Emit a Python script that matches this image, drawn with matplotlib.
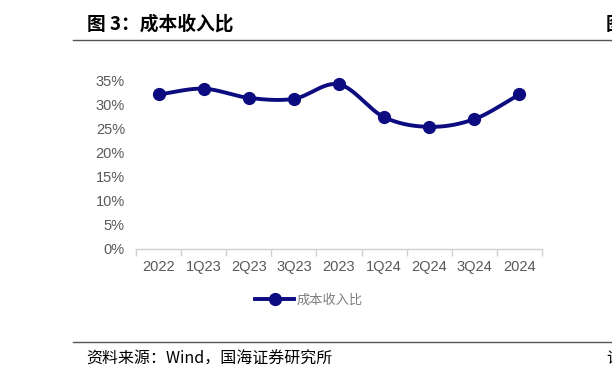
import numpy as np
import matplotlib
matplotlib.use('Agg')
import matplotlib.pyplot as plt
from matplotlib.lines import Line2D

plt.rcParams['font.family'] = ['Noto Sans CJK SC', 'DejaVu Sans']

# 数据
categories = ['2022', '1Q23', '2Q23', '3Q23', '2023', '1Q24', '2Q24', '3Q24', '2024']
cost_income = [32.0, 33.2, 31.3, 31.1, 34.1, 27.3, 25.3, 26.9, 32.0]
y_ticks = [0, 5, 10, 15, 20, 25, 30, 35]
series_name = '成本收入比'
title = '图 3：成本收入比'
source = '资料来源：Wind，国海证券研究所'

navy = '#0c0c80'
grey = '#595959'


def smooth(x, y, n=30):
    # Catmull-Rom 平滑曲线（类似 Excel 平滑线）
    x = np.asarray(x, float)
    y = np.asarray(y, float)
    px = np.concatenate([[2 * x[0] - x[1]], x, [2 * x[-1] - x[-2]]])
    py = np.concatenate([[2 * y[0] - y[1]], y, [2 * y[-1] - y[-2]]])
    xs, ys = [], []
    t = np.linspace(0, 1, n)
    for i in range(1, len(px) - 2):
        for p, out in ((px, xs), (py, ys)):
            p0, p1, p2, p3 = p[i - 1], p[i], p[i + 1], p[i + 2]
            out.extend(0.5 * ((2 * p1) + (-p0 + p2) * t
                              + (2 * p0 - 5 * p1 + 4 * p2 - p3) * t ** 2
                              + (-p0 + 3 * p1 - 3 * p2 + p3) * t ** 3))
    return np.array(xs), np.array(ys)


fig = plt.figure(figsize=(6.12, 3.82), dpi=100)
ax = fig.add_axes([136 / 612, 1 - 249 / 382, 406 / 612, 169 / 382])

x = np.arange(len(categories))
sx, sy = smooth(x, cost_income)
ax.plot(sx, sy, color=navy, lw=2.8, solid_capstyle='round', clip_on=False, zorder=3)
ax.plot(x, cost_income, 'o', color=navy, ms=8.5, clip_on=False, zorder=4)

ax.set_xlim(-0.5, len(categories) - 0.5)
ax.set_ylim(0, 35)
ax.set_yticks(y_ticks)
ax.set_yticklabels([f'{v}%' for v in y_ticks])
ax.set_xticks(x)
ax.set_xticklabels(categories)
ax.set_xticks(np.arange(len(categories) + 1) - 0.5, minor=True)

for s in ['top', 'right', 'left']:
    ax.spines[s].set_visible(False)
ax.spines['bottom'].set_color('#d0d0d0')
ax.spines['bottom'].set_linewidth(1.0)
ax.tick_params(axis='x', which='major', length=0, pad=8, labelsize=10.5, labelcolor=grey)
ax.tick_params(axis='x', which='minor', length=5, color='#d0d0d0', width=1.0)
ax.tick_params(axis='y', length=0, pad=8, labelsize=10.5, labelcolor=grey)
for lab in ax.get_xticklabels() + ax.get_yticklabels():
    lab.set_family(['Liberation Sans', 'DejaVu Sans'])

# 图例
handle = Line2D([], [], color=navy, lw=2.8, marker='o', ms=8.5)
fig.legend([handle], [series_name], loc='center', bbox_to_anchor=(309 / 612, 1 - 300 / 382),
           frameon=False, fontsize=9.5, handlelength=3.0, handletextpad=0.2,
           labelcolor='#7f7f7f')

# 标题与来源
fig.text(87 / 612, 1 - 24 / 382, title, fontsize=13.5, fontweight='bold', va='center', ha='left')
fig.text(606 / 612, 1 - 24 / 382, '图', fontsize=13.5, fontweight='bold', va='center', ha='left')
fig.add_artist(Line2D([73 / 612, 1], [1 - 40 / 382] * 2, color='#555555', lw=1.0))
fig.add_artist(Line2D([73 / 612, 1], [1 - 342 / 382] * 2, color='#555555', lw=1.0))
fig.text(86 / 612, 1 - 359 / 382, source, fontsize=11.5, va='center', ha='left')
fig.text(606 / 612, 1 - 359 / 382, '请', fontsize=11.5, va='center', ha='left')

fig.savefig('out.png', dpi=100)
